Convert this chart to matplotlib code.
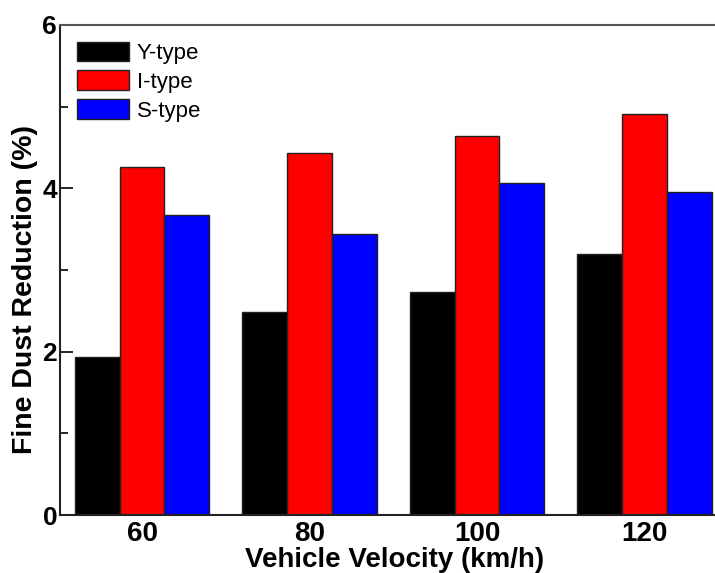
import matplotlib
matplotlib.use("Agg")
import matplotlib.pyplot as plt
import numpy as np
from matplotlib.ticker import MultipleLocator

categories = ["60", "80", "100", "120"]
y_type = [1.93, 2.48, 2.73, 3.19]
i_type = [4.26, 4.43, 4.64, 4.91]
s_type = [3.67, 3.44, 4.07, 3.95]
series_names = ["Y-type", "I-type", "S-type"]
colors = ["#000000", "#ff0000", "#0000ff"]

plt.rcParams['font.family'] = ['Liberation Sans', 'DejaVu Sans']

fig = plt.figure(figsize=(7.15, 5.73), dpi=100)
ax = fig.add_axes([60/715, 57.9/573, 670/715, 490.2/573])

x = np.arange(len(categories))
w = 0.267
for k, (vals, name, c) in enumerate(zip([y_type, i_type, s_type], series_names, colors)):
    ax.bar(x + (k - 1) * w, vals, width=w, color=c, edgecolor='#222222', linewidth=1.0, label=name)

ax.set_xlim(-0.49, 3.51)
ax.set_ylim(0, 6)
ax.set_xticks(x)
ax.set_xticklabels(categories, fontsize=20, fontweight='bold')
ax.yaxis.set_major_locator(MultipleLocator(2))
ax.yaxis.set_minor_locator(MultipleLocator(1))
for lab in ax.get_yticklabels():
    lab.set_fontweight('bold')
ax.tick_params(axis='y', which='major', direction='in', length=9, width=1.2, pad=2, labelsize=19)
ax.tick_params(axis='y', which='minor', direction='in', length=6, width=1.2)
ax.tick_params(axis='x', which='both', length=0, pad=4, labelsize=20)
ax.tick_params(axis='y', right=False)

for s in ['left', 'bottom']:
    ax.spines[s].set_linewidth(1.5)
    ax.spines[s].set_color('#222222')
ax.spines['top'].set_linewidth(1.5)
ax.spines['top'].set_color('#555555')
ax.spines['right'].set_visible(False)

ax.set_xlabel("Vehicle Velocity (km/h)", fontsize=20, fontweight='bold', labelpad=0)
ax.set_ylabel("Fine Dust Reduction (%)", fontsize=20.5, fontweight='bold', labelpad=3)
ax.yaxis.set_label_coords(-0.033, 0.461)

leg = ax.legend(loc='upper left', frameon=False, fontsize=16, handlelength=2.35, handleheight=0.95,
                handletextpad=0.35, labelspacing=0.3, borderaxespad=0.35, bbox_to_anchor=(0.0, 1.0))

fig.savefig("out.png", dpi=100)
